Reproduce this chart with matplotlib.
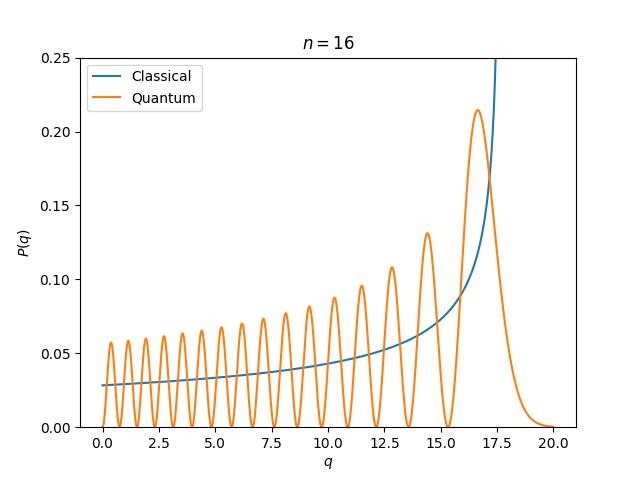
import numpy as np
import matplotlib
matplotlib.use("Agg")
import matplotlib.pyplot as plt

n_state = 16
q_max = 20.0
y_max = 0.25
series_labels = ["Classical", "Quantum"]

# Airy function Ai(x) by RK4 integration of y'' = x y from the right (decaying branch)
def airy_ai(xs_desc):
    x0 = xs_desc[0]
    z = 2/3 * x0**1.5
    y = np.exp(-z) / (2*np.sqrt(np.pi)*x0**0.25)
    dy = -y*(np.sqrt(x0) + 1/(4*x0))
    out = [y]
    for i in range(1, len(xs_desc)):
        h = xs_desc[i] - xs_desc[i-1]
        x = xs_desc[i-1]
        f = lambda x, y, dy: (dy, x*y)
        k1 = f(x, y, dy)
        k2 = f(x+h/2, y+h/2*k1[0], dy+h/2*k1[1])
        k3 = f(x+h/2, y+h/2*k2[0], dy+h/2*k2[1])
        k4 = f(x+h, y+h*k3[0], dy+h*k3[1])
        y += h/6*(k1[0]+2*k2[0]+2*k3[0]+k4[0])
        dy += h/6*(k1[1]+2*k2[1]+2*k3[1]+k4[1])
        out.append(y)
    return np.array(out)

xs = np.linspace(8, -20, 28001)
ai = airy_ai(xs)
zeros = []
for i in range(1, len(xs)):
    if ai[i-1] == 0 or ai[i-1]*ai[i] < 0:
        zeros.append(xs[i-1] - ai[i-1]*(xs[i]-xs[i-1])/(ai[i]-ai[i-1]))
E = -zeros[n_state-1]

q = np.linspace(0, q_max, 2000)
psi = np.interp(q - E, xs[::-1], ai[::-1])
Pq = psi**2
Pq /= np.trapezoid(Pq, q)

qc = np.linspace(0, E - 1e-4, 3000)
Pc = 1/(2*np.sqrt(E)*np.sqrt(E - qc))

fig, ax = plt.subplots(figsize=(6.4, 4.8), dpi=100)
ax.plot(qc, Pc, label=series_labels[0])
ax.plot(q, Pq, label=series_labels[1])
ax.set_ylim(0, y_max)
ax.set_xlabel("$q$")
ax.set_ylabel("$P(q)$")
ax.set_title(f"$n={n_state}$")
ax.legend(loc="upper left")
fig.savefig("out.png")
